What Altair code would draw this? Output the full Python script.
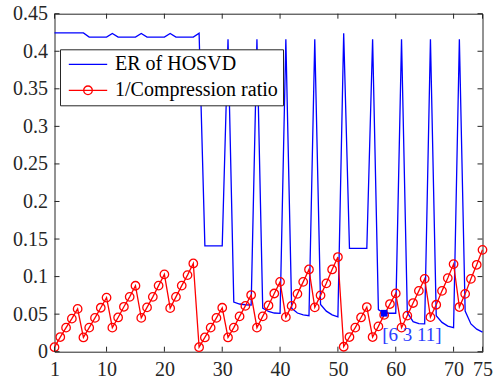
import altair as alt
import pandas as pd

# ---------------- data ----------------
x_vals = list(range(1, 76))

er_hosvd = [
    0.4245, 0.4245, 0.4245, 0.4245, 0.4245, 0.4245,
    0.4188, 0.4188, 0.4188, 0.4188,
    0.4236, 0.4188, 0.4188, 0.4188, 0.4188,
    0.4236, 0.4188, 0.4188, 0.4188, 0.4188,
    0.4236, 0.4188, 0.4188, 0.4188, 0.4188,
    0.4240, 0.141, 0.141, 0.141, 0.141,
    0.416, 0.066, 0.0635, 0.0625, 0.062,
    0.416, 0.058, 0.0536, 0.0515, 0.051,
    0.416, 0.058, 0.0515, 0.049, 0.048,
    0.416, 0.063, 0.054, 0.049, 0.0465,
    0.424, 0.1375, 0.1375, 0.1375, 0.1375,
    0.416, 0.056, 0.0512, 0.0512, 0.0512,
    0.416, 0.052, 0.040, 0.0375, 0.037,
    0.416, 0.048, 0.039, 0.034, 0.032,
    0.416, 0.054, 0.037, 0.030, 0.026,
]

inv_compression = [
    0.006, 0.0195, 0.032, 0.044, 0.057,
    0.019, 0.032, 0.045, 0.0585, 0.072,
    0.032, 0.0456, 0.0598, 0.073, 0.0878,
    0.045, 0.059, 0.073, 0.088, 0.103,
    0.058, 0.073, 0.088, 0.102, 0.1175,
    0.006, 0.019, 0.032, 0.045, 0.0585,
    0.019, 0.032, 0.047, 0.061, 0.0754,
    0.032, 0.047, 0.0616, 0.0775, 0.093,
    0.046, 0.061, 0.077, 0.093, 0.1095,
    0.059, 0.075, 0.091, 0.1095, 0.126,
    0.0066, 0.0195, 0.032, 0.0456, 0.0594,
    0.0195, 0.0337, 0.049, 0.0634, 0.0776,
    0.032, 0.048, 0.0648, 0.081, 0.097,
    0.046, 0.0625, 0.081, 0.098, 0.1166,
    0.0594, 0.077, 0.097, 0.1157, 0.1356,
]

series_names = ["ER of HOSVD", "1/Compression ratio"]
series_colors = ["#0000ff", "#ff0000"]

x_ticks = [1, 10, 20, 30, 40, 50, 60, 70, 75]
y_ticks = [0, 0.05, 0.1, 0.15, 0.2, 0.25, 0.3, 0.35, 0.4, 0.45]

mark_x = [58]
mark_y = [0.0512]
mark_label = ["[6 3 11]"]

# ---------------- tables ----------------
df_blue = pd.DataFrame({"x": x_vals, "y": er_hosvd})
df_red = pd.DataFrame({"x": x_vals, "y": inv_compression})
df_mark = pd.DataFrame({"x": mark_x, "y": mark_y, "label": mark_label})
df_xt = pd.DataFrame({"v": x_ticks})
df_yt = pd.DataFrame({"v": y_ticks})
df_leg = pd.DataFrame({"series": series_names, "x": [1, 1], "y": [0, 0]})

W, H = 428, 338
FONT = "Liberation Serif"
AX = "#262626"

xs = alt.Scale(domain=[1, 75], nice=False, zero=False)
ys = alt.Scale(domain=[0, 0.45], nice=False, zero=False)
cs = alt.Scale(domain=series_names, range=series_colors)

path_line = "M-3.2,0L3.2,0"
path_line_circle = "M-3.2,0L3.2,0M0.72,0A0.72,0.72 0 1 1 -0.72,0A0.72,0.72 0 1 1 0.72,0"
ss = alt.Scale(domain=series_names, range=[path_line, path_line_circle])

x_axis = alt.Axis(values=x_ticks, format="d", ticks=False, domain=False, grid=False,
                  labelFont=FONT, labelFontSize=20, labelColor=AX, labelPadding=8,
                  labelFlush=False, labelOverlap=False, title=None)
y_axis = alt.Axis(values=y_ticks, format="~g", ticks=False, domain=False, grid=False,
                  labelFont=FONT, labelFontSize=20, labelColor=AX, labelPadding=7,
                  labelOverlap=False, title=None)


def X(field):
    return alt.X(field, scale=xs, axis=x_axis)


def Y(field):
    return alt.Y(field, scale=ys, axis=y_axis)


blue_line = alt.Chart(df_blue).mark_line(strokeWidth=1.3, color=series_colors[0]).encode(
    x=X("x:Q"), y=Y("y:Q"))

red_line = alt.Chart(df_red).mark_line(strokeWidth=1.3, color=series_colors[1]).encode(
    x=X("x:Q"), y=Y("y:Q"))

red_points = alt.Chart(df_red).mark_point(shape="circle", filled=False, size=72,
                                          strokeWidth=1.3, color=series_colors[1], opacity=1).encode(
    x=X("x:Q"), y=Y("y:Q"))

sq = alt.Chart(df_mark).mark_point(shape="square", filled=True, size=45, color="#0000ff", opacity=1).encode(
    x=X("x:Q"), y=Y("y:Q"))

txt = alt.Chart(df_mark).mark_text(align="left", baseline="top", dx=-2, dy=13,
                                   font=FONT, fontSize=19, color="#2a3cff").encode(
    x=X("x:Q"), y=Y("y:Q"), text="label:N")

tick_style = dict(color=AX, strokeWidth=1)
xt_bottom = alt.Chart(df_xt).mark_rule(**tick_style).encode(
    x=X("v:Q"), y=alt.value(H), y2=alt.value(H - 5))
xt_top = alt.Chart(df_xt).mark_rule(**tick_style).encode(
    x=X("v:Q"), y=alt.value(0), y2=alt.value(5))
yt_left = alt.Chart(df_yt).mark_rule(**tick_style).encode(
    y=Y("v:Q"), x=alt.value(0), x2=alt.value(5))
yt_right = alt.Chart(df_yt).mark_rule(**tick_style).encode(
    y=Y("v:Q"), x=alt.value(W - 5), x2=alt.value(W))

legend_cfg = alt.Legend(
    title=None, orient="none", legendX=5.5, legendY=35.6,
    fillColor="white", strokeColor=AX, padding=5,
    labelFont=FONT, labelFontSize=20, labelColor="black", labelLimit=400,
    symbolSize=144, symbolStrokeWidth=1.3, symbolFillColor="transparent",
    symbolOffset=13, labelOffset=17, rowPadding=6,
)

legend_layer = alt.Chart(df_leg).transform_filter("false").mark_point(filled=False, opacity=1).encode(
    x=X("x:Q"), y=Y("y:Q"),
    color=alt.Color("series:N", scale=cs, legend=legend_cfg),
    shape=alt.Shape("series:N", scale=ss, legend=legend_cfg),
)

chart = alt.layer(
    blue_line, red_line, red_points, sq, txt, xt_bottom, xt_top, yt_left, yt_right, legend_layer
).properties(
    width=W, height=H,
    autosize=alt.AutoSizeParams(type="none"),
    padding={"left": 54.5, "top": 13.7, "right": 10.5, "bottom": 30.3},
    background="white",
).configure_view(stroke=AX, strokeWidth=1)

chart.save("out.html", embed_options={"renderer": "svg", "actions": False})
